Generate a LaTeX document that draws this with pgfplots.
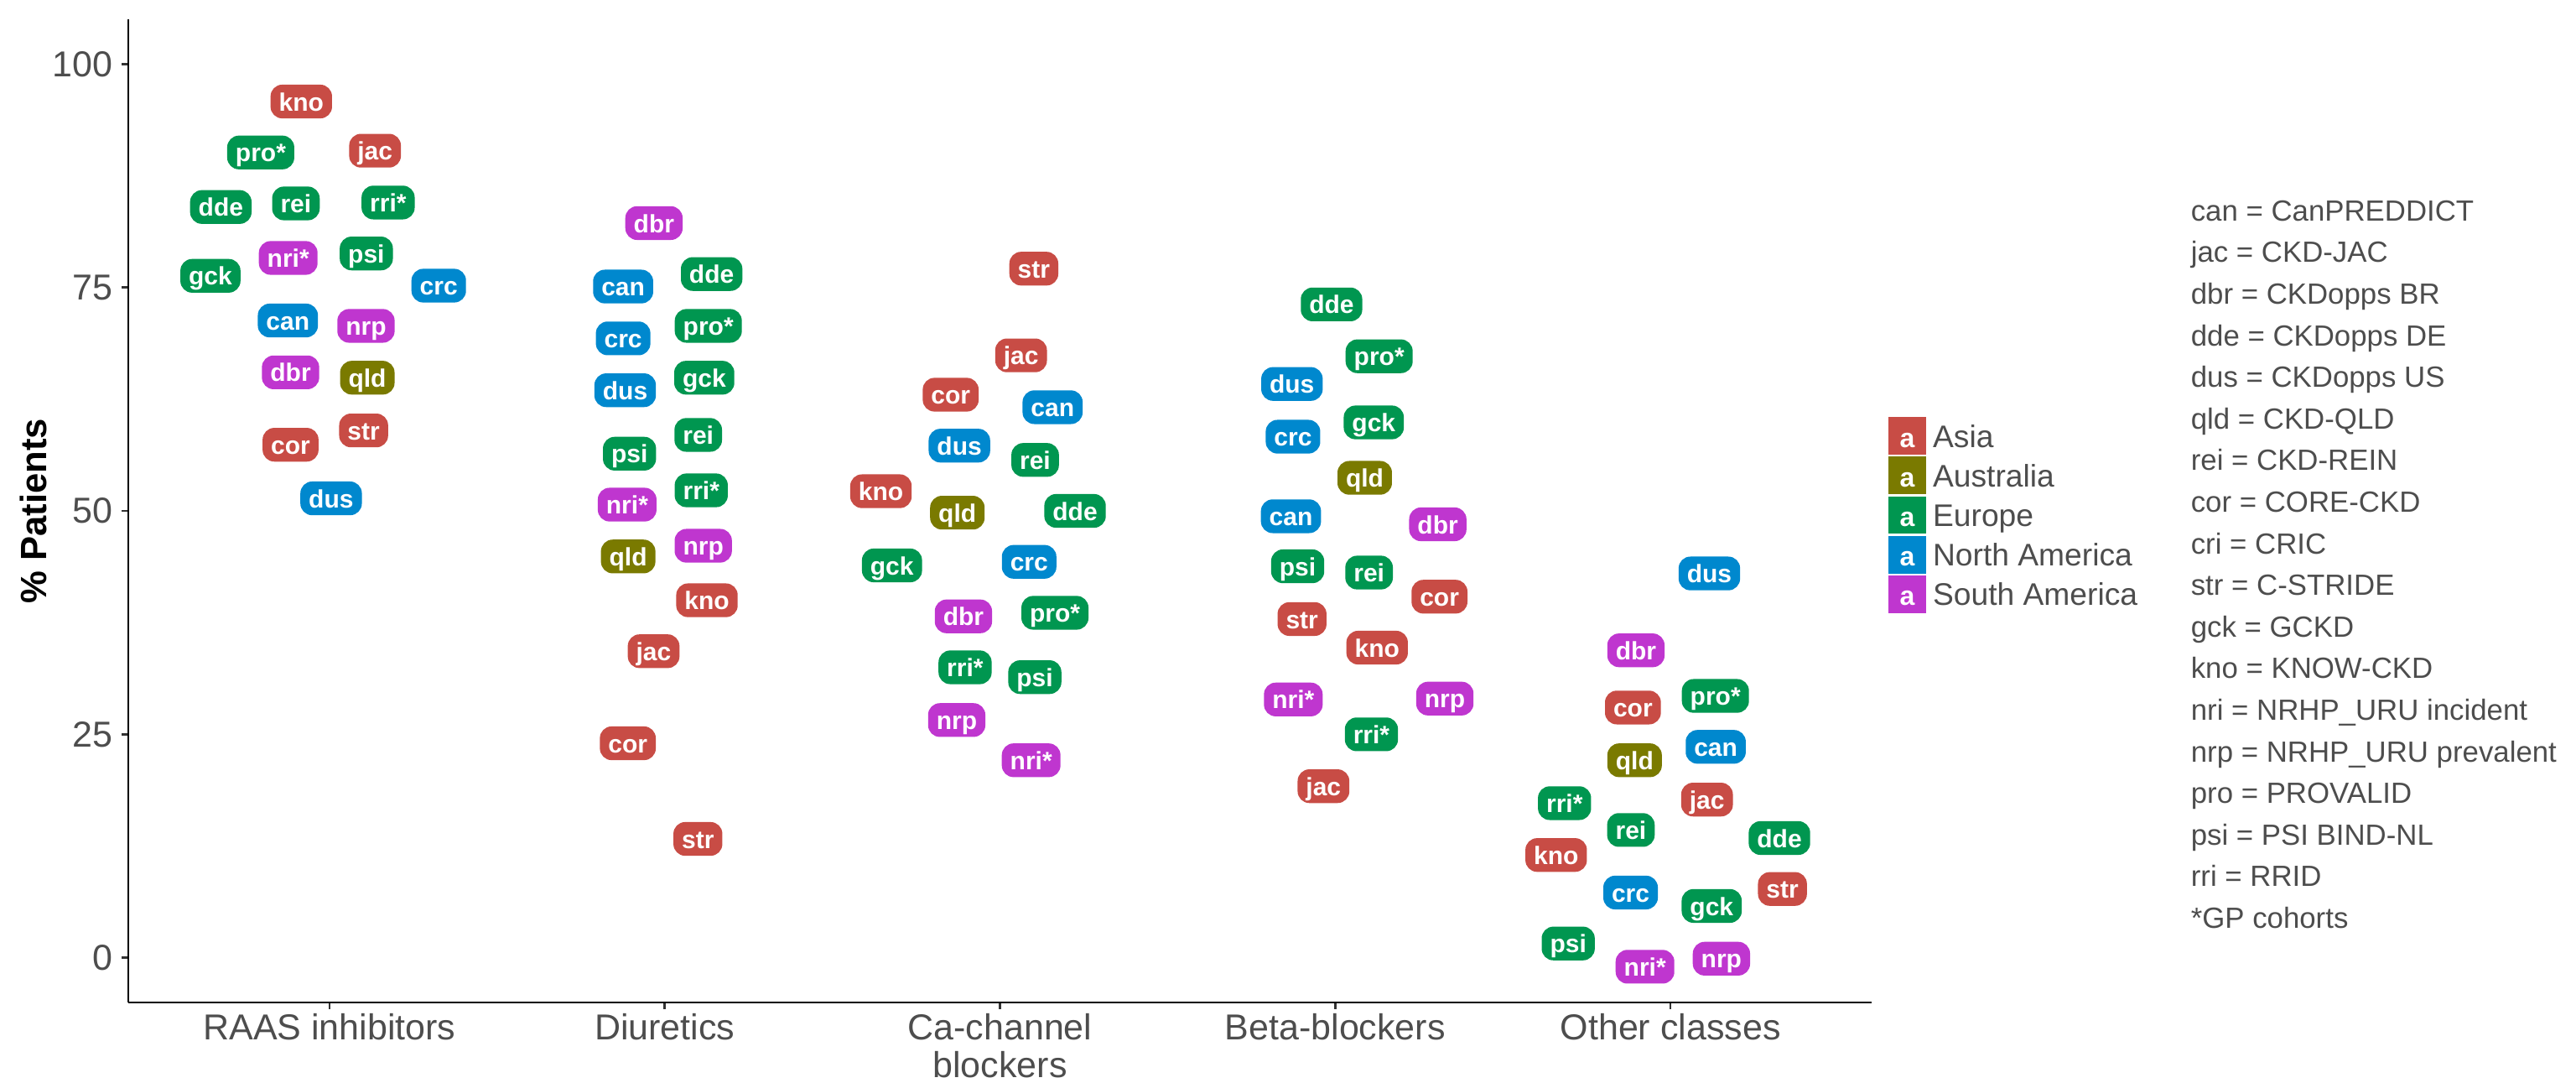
\documentclass[border=0pt]{standalone}
\usepackage{fontspec}
\setmainfont{Liberation Sans}
\usepackage{pgfplots}
\pgfplotsset{compat=1.18}
\definecolor{asia}{HTML}{C84C45}
\definecolor{aus}{HTML}{7A7A00}
\definecolor{eur}{HTML}{009650}
\definecolor{nam}{HTML}{0088CE}
\definecolor{sam}{HTML}{BF36CF}
\definecolor{txt}{HTML}{4D4D4D}
\tikzset{
  lab/.style={fill=#1, text=white, rounded corners=3.5pt, inner xsep=2.5pt, inner ysep=1.5pt,
    text height=6.3pt, text depth=0.75pt, font=\bfseries\fontsize{7.5}{8}\selectfont, anchor=center},
  key/.style={fill=#1, draw=white, line width=0.3pt, minimum width=11.5pt, minimum height=11.5pt,
    inner sep=0pt, text=white, font=\bfseries\fontsize{8}{8}\selectfont}
}
\pgfplotsset{
  grp/.style={only marks, mark=none, point meta=explicit symbolic, nodes near coords,
    nodes near coords style={lab=#1},
    legend image code/.code={\node[key=#1] at (5.75pt,0pt) {a};}}
}
\begin{document}
\begin{tikzpicture}
\useasboundingbox (0,0) rectangle (768pt,322.5pt);
\begin{axis}[
  at={(38.25pt,23.75pt)}, anchor=south west,
  scale only axis, width=519.75pt, height=293pt,
  xmin=-0.6, xmax=4.6, ymin=-5, ymax=105,
  clip=false,
  separate axis lines,
  axis x line*=bottom, axis y line*=left,
  x axis line style={-, black, line width=0.65pt},
  y axis line style={-, black, line width=0.65pt},
  tick align=outside, major tick length=1.9pt,
  tick style={black!80, line width=0.65pt},
  xtick={0,1,2,3,4},
  xticklabels={RAAS inhibitors, Diuretics, {Ca-channel\\blockers}, Beta-blockers, Other classes},
  ytick={0,25,50,75,100},
  minor tick num=0,
  /pgf/number format/assume math mode=true,
  xticklabel style={font=\fontsize{10.75}{11.25}\selectfont, text=txt, align=center, inner sep=0pt, anchor=north, yshift=-1.25pt},
  yticklabel style={font=\fontsize{10.75}{12}\selectfont, text=txt, inner sep=0pt, anchor=east, xshift=-2.6pt},
  ylabel={\% Patients},
  ylabel style={font=\bfseries\fontsize{10.9}{12}\selectfont, text=black, at={(rel axis cs:-0.0544,0.5)}, anchor=center},
  legend cell align=left,
  legend style={at={(1.0091,0.4957)}, anchor=west, draw=none, fill=none, inner sep=0pt, outer sep=0pt,
    row sep=0pt, column sep=1.75pt, font=\fontsize{9.3}{11}\selectfont, text=txt,
    nodes={inner sep=0pt, anchor=west, text height=6.7pt, text depth=0pt}},
]
\addplot[grp=asia] table[x=x, y=y, meta=label] {
x y label
-0.084 95.8 kno
0.136 90.3 jac
0.102 59.0 str
-0.116 57.4 cor
1.126 40.0 kno
0.967 34.3 jac
0.890 24.0 cor
1.099 13.3 str
2.101 77.1 str
2.063 67.4 jac
1.853 63.0 cor
1.645 52.2 kno
3.311 40.4 cor
2.901 37.9 str
3.125 34.7 kno
2.965 19.2 jac
3.888 28.0 cor
4.109 17.7 jac
3.659 11.5 kno
4.334 7.7 str
};
\addlegendentry{Asia}
\addplot[grp=aus] table[x=x, y=y, meta=label] {
x y label
0.113 64.9 qld
0.891 44.9 qld
1.873 49.8 qld
3.088 53.7 qld
3.893 22.1 qld
};
\addlegendentry{Australia}
\addplot[grp=eur] table[x=x, y=y, meta=label] {
x y label
-0.205 90.1 pro*
-0.324 84.0 dde
-0.100 84.4 rei
0.175 84.5 rri*
0.110 78.8 psi
-0.355 76.3 gck
1.140 76.5 dde
1.130 70.7 pro*
1.118 64.9 gck
0.895 56.4 psi
1.100 58.5 rei
1.109 52.3 rri*
2.105 55.7 rei
2.224 50.0 dde
1.678 43.9 gck
2.164 38.6 pro*
1.896 32.5 rri*
2.104 31.4 psi
2.989 73.1 dde
3.131 67.3 pro*
3.115 59.9 gck
2.888 43.8 psi
3.101 43.1 rei
3.108 25.0 rri*
4.134 29.3 pro*
3.684 17.3 rri*
3.882 14.3 rei
4.325 13.4 dde
4.123 5.8 gck
3.695 1.6 psi
};
\addlegendentry{Europe}
\addplot[grp=nam] table[x=x, y=y, meta=label] {
x y label
0.326 75.2 crc
-0.124 71.3 can
0.005 51.4 dus
0.876 75.1 can
0.876 69.3 crc
0.882 63.5 dus
2.157 61.6 can
1.879 57.3 dus
2.087 44.3 crc
2.871 64.2 dus
2.874 58.3 crc
2.868 49.4 can
4.116 43.0 dus
4.135 23.6 can
3.881 7.3 crc
};
\addlegendentry{North America}
\addplot[grp=sam] table[x=x, y=y, meta=label] {
x y label
-0.123 78.3 nri*
0.109 70.7 nrp
-0.116 65.5 dbr
0.968 82.2 dbr
0.888 50.7 nri*
1.115 46.1 nrp
1.891 38.2 dbr
1.871 26.6 nrp
2.093 22.1 nri*
3.306 48.5 dbr
2.875 28.9 nri*
3.327 29.0 nrp
3.897 34.4 dbr
3.924 -1.0 nri*
4.152 -0.1 nrp
};
\addlegendentry{South America}
\end{axis}
\foreach \t [count=\i from 0] in {can = CanPREDDICT, jac = CKD-JAC, dbr = CKDopps BR, dde = CKDopps DE, dus = CKDopps US, qld = CKD-QLD, rei = CKD-REIN, cor = CORE-CKD, cri = CRIC, str = C-STRIDE, gck = GCKD, kno = KNOW-CKD, nri = NRHP\_URU incident, nrp = NRHP\_URU prevalent, pro = PROVALID, psi = PSI BIND-NL, rri = RRID, *GP cohorts}
  \node[anchor=base west, inner sep=0pt, text=txt, font=\fontsize{8.7}{10}\selectfont] at (653pt,{256.7pt-\i*12.4pt}) {\t};
\end{tikzpicture}
\end{document}
